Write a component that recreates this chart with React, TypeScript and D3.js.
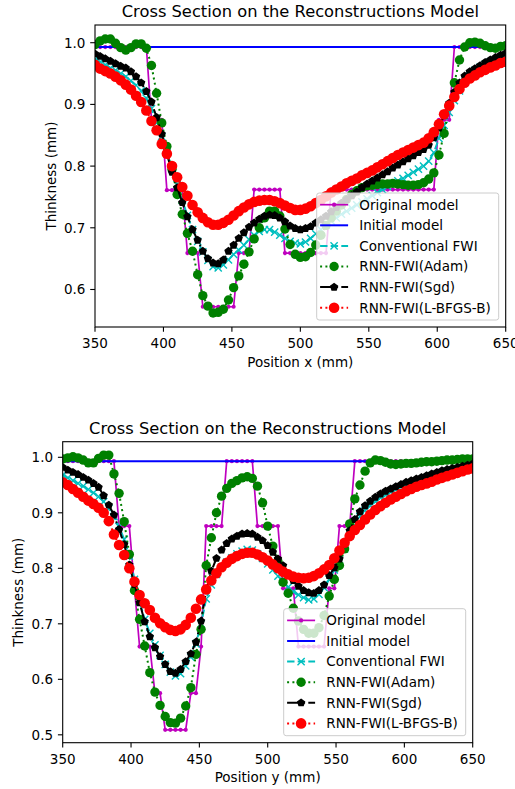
import React from "react";
import * as d3 from "d3";

// Sampling positions along the cross section (mm)
const positionMm = [
  350, 353.75, 357.5, 361.25, 365, 368.75, 372.5, 376.25, 380, 383.75,
  387.5, 391.25, 395, 398.75, 402.5, 406.25, 410, 413.75, 417.5, 421.25,
  425, 428.75, 432.5, 436.25, 440, 443.75, 447.5, 451.25, 455, 458.75,
  462.5, 466.25, 470, 473.75, 477.5, 481.25, 485, 488.75, 492.5, 496.25,
  500, 503.75, 507.5, 511.25, 515, 518.75, 522.5, 526.25, 530, 533.75,
  537.5, 541.25, 545, 548.75, 552.5, 556.25, 560, 563.75, 567.5, 571.25,
  575, 578.75, 582.5, 586.25, 590, 593.75, 597.5, 601.25, 605, 608.75,
  612.5, 616.25, 620, 623.75, 627.5, 631.25, 635, 638.75, 642.5, 646.25, 650,
];

// Initial model: flat plate, drawn as a plain line across the section
const initialPositionMm = [350, 650];
const initialThickness = [0.993, 0.993];

// ---- Cross section along x ----
const xOriginal = [
  0.993, 0.993, 0.993, 0.993, 0.993, 0.993, 0.993, 0.993, 0.993, 0.993, 0.993,
  0.875, 0.875, 0.875,
  0.761, 0.761, 0.761, 0.761,
  0.659, 0.659, 0.659,
  0.572, 0.572, 0.572, 0.572, 0.572, 0.572, 0.572,
  0.659, 0.659, 0.659,
  0.762, 0.762, 0.762, 0.762, 0.762, 0.762,
  0.659, 0.659, 0.659, 0.659, 0.659, 0.659, 0.659, 0.659, 0.659,
  0.762, 0.762, 0.762, 0.762, 0.762, 0.762, 0.762, 0.762, 0.762, 0.762, 0.762,
  0.762, 0.762, 0.762, 0.762, 0.762, 0.762, 0.762, 0.762, 0.762, 0.762,
  0.875, 0.875, 0.875,
  0.993, 0.993, 0.993, 0.993, 0.993, 0.993, 0.993, 0.993, 0.993, 0.993, 0.993,
];
const xConventional = [
  0.973, 0.969, 0.964, 0.959, 0.955, 0.950, 0.945, 0.938, 0.931, 0.922,
  0.910, 0.893, 0.870, 0.848, 0.822, 0.796, 0.770, 0.745, 0.720, 0.697,
  0.678, 0.661, 0.647, 0.637, 0.635, 0.640, 0.648, 0.657, 0.664, 0.672,
  0.681, 0.688, 0.694, 0.697, 0.697, 0.693, 0.688, 0.683, 0.678, 0.675,
  0.674, 0.677, 0.683, 0.690, 0.697, 0.704, 0.711, 0.716, 0.722, 0.727,
  0.732, 0.737, 0.742, 0.747, 0.752, 0.757, 0.762, 0.767, 0.772, 0.776,
  0.780, 0.785, 0.790, 0.795, 0.800, 0.808, 0.822, 0.845, 0.866, 0.887,
  0.906, 0.922, 0.936, 0.947, 0.955, 0.960, 0.965, 0.969, 0.972, 0.975, 0.977,
];
const xAdam = [
  0.997, 1.003, 1.006, 1.006, 0.999, 0.992, 0.988, 0.992, 0.998, 0.998,
  0.991, 0.963, 0.918, 0.870, 0.832, 0.795, 0.754, 0.722, 0.691, 0.662,
  0.624, 0.590, 0.573, 0.562, 0.563, 0.568, 0.583, 0.603, 0.622, 0.641,
  0.661, 0.682, 0.700, 0.716, 0.727, 0.727, 0.719, 0.698, 0.673, 0.657,
  0.652, 0.653, 0.660, 0.672, 0.688, 0.704, 0.716, 0.727, 0.737, 0.746,
  0.754, 0.760, 0.765, 0.768, 0.769, 0.770, 0.771, 0.771, 0.772, 0.771,
  0.770, 0.769, 0.769, 0.770, 0.773, 0.779, 0.789, 0.818, 0.853, 0.898,
  0.935, 0.972, 0.993, 1.000, 1.001, 0.999, 0.995, 0.992, 0.991, 0.994, 0.995,
];
const xSgd = [
  0.982, 0.978, 0.974, 0.970, 0.966, 0.962, 0.959, 0.953, 0.945, 0.935,
  0.921, 0.904, 0.879, 0.852, 0.820, 0.790, 0.765, 0.741, 0.718, 0.697,
  0.680, 0.662, 0.650, 0.643, 0.642, 0.648, 0.662, 0.672, 0.683, 0.692,
  0.701, 0.708, 0.714, 0.719, 0.721, 0.720, 0.716, 0.710, 0.703, 0.699,
  0.697, 0.699, 0.702, 0.708, 0.713, 0.719, 0.726, 0.733, 0.740, 0.746,
  0.752, 0.758, 0.765, 0.771, 0.776, 0.781, 0.786, 0.791, 0.797, 0.802,
  0.807, 0.812, 0.817, 0.822, 0.827, 0.834, 0.846, 0.862, 0.882, 0.902,
  0.920, 0.935, 0.946, 0.953, 0.958, 0.963, 0.968, 0.972, 0.976, 0.980, 0.983,
];
const xLbfgs = [
  0.964, 0.958, 0.954, 0.950, 0.945, 0.939, 0.932, 0.924, 0.914, 0.904,
  0.890, 0.873, 0.858, 0.836, 0.820, 0.800, 0.782, 0.766, 0.752, 0.737,
  0.725, 0.716, 0.709, 0.705, 0.705, 0.708, 0.713, 0.720, 0.727, 0.733,
  0.738, 0.742, 0.744, 0.745, 0.745, 0.743, 0.740, 0.736, 0.732, 0.729,
  0.729, 0.731, 0.735, 0.740, 0.745, 0.751, 0.757, 0.762, 0.767, 0.772,
  0.776, 0.780, 0.785, 0.789, 0.793, 0.798, 0.803, 0.808, 0.813, 0.818,
  0.822, 0.826, 0.830, 0.834, 0.838, 0.845, 0.855, 0.868, 0.884, 0.898,
  0.912, 0.925, 0.935, 0.942, 0.947, 0.952, 0.956, 0.960, 0.963, 0.967, 0.969,
];

// ---- Cross section along y ----
const yOriginal = [
  0.993, 0.993, 0.993, 0.993, 0.993, 0.993, 0.993, 0.993, 0.993, 0.993, 0.993,
  0.876, 0.876, 0.876,
  0.765,
  0.659, 0.659, 0.659,
  0.575, 0.575,
  0.509, 0.509, 0.509, 0.509, 0.509,
  0.575, 0.575,
  0.659,
  0.876, 0.876, 0.876, 0.876,
  0.993, 0.993, 0.993, 0.993, 0.993, 0.993,
  0.876, 0.876, 0.876, 0.876, 0.876,
  0.764, 0.764, 0.764,
  0.659, 0.659, 0.659, 0.659, 0.659, 0.659,
  0.764, 0.764,
  0.876, 0.876, 0.876,
  0.993, 0.993, 0.993, 0.993, 0.993, 0.993, 0.993, 0.993, 0.993, 0.993, 0.993, 0.993,
  0.993, 0.993, 0.993, 0.993, 0.993, 0.993, 0.993, 0.993, 0.993, 0.993, 0.993, 0.993,
];
const yConventional = [
  0.968, 0.963, 0.958, 0.953, 0.948, 0.942, 0.936, 0.929, 0.920, 0.908,
  0.893, 0.875, 0.852, 0.822, 0.780, 0.740, 0.708, 0.683, 0.662, 0.643,
  0.627, 0.613, 0.606, 0.610, 0.624, 0.640, 0.664, 0.700, 0.745, 0.770,
  0.789, 0.802, 0.811, 0.819, 0.826, 0.831, 0.834, 0.833, 0.826, 0.818,
  0.808, 0.797, 0.786, 0.776, 0.766, 0.758, 0.752, 0.747, 0.743, 0.745,
  0.753, 0.765, 0.780, 0.797, 0.815, 0.835, 0.858, 0.877, 0.893, 0.904,
  0.913, 0.920, 0.927, 0.932, 0.937, 0.942, 0.946, 0.950, 0.954, 0.957,
  0.960, 0.963, 0.966, 0.969, 0.972, 0.975, 0.977, 0.979, 0.981, 0.983, 0.985,
];
const yAdam = [
  0.997, 0.999, 1.001, 0.999, 0.995, 0.990, 0.990, 0.998, 1.004, 1.004,
  0.970, 0.935, 0.884, 0.825, 0.760, 0.708, 0.660, 0.612, 0.577, 0.553,
  0.533, 0.522, 0.521, 0.530, 0.552, 0.585, 0.645, 0.690, 0.805, 0.855,
  0.900, 0.930, 0.944, 0.953, 0.958, 0.963, 0.965, 0.962, 0.948, 0.918,
  0.876, 0.840, 0.812, 0.775, 0.755, 0.728, 0.705, 0.690, 0.683, 0.683,
  0.693, 0.715, 0.750, 0.780, 0.805, 0.835, 0.880, 0.925, 0.950, 0.975,
  0.990, 0.995, 0.994, 0.991, 0.988, 0.987, 0.988, 0.989, 0.989, 0.990,
  0.991, 0.992, 0.992, 0.993, 0.994, 0.995, 0.995, 0.996, 0.997, 0.997, 0.997,
];
const ySgd = [
  0.982, 0.977, 0.973, 0.969, 0.964, 0.959, 0.953, 0.946, 0.931, 0.914,
  0.896, 0.870, 0.843, 0.806, 0.771, 0.738, 0.704, 0.677, 0.657, 0.641,
  0.627, 0.614, 0.611, 0.618, 0.632, 0.646, 0.667, 0.705, 0.760, 0.795,
  0.818, 0.833, 0.845, 0.853, 0.858, 0.862, 0.863, 0.862, 0.856, 0.850,
  0.841, 0.829, 0.817, 0.805, 0.789, 0.778, 0.768, 0.760, 0.756, 0.755,
  0.760, 0.770, 0.787, 0.801, 0.817, 0.844, 0.868, 0.888, 0.902, 0.913,
  0.921, 0.928, 0.934, 0.939, 0.943, 0.947, 0.951, 0.955, 0.958, 0.961,
  0.964, 0.967, 0.970, 0.973, 0.976, 0.978, 0.980, 0.982, 0.984, 0.986, 0.988,
];
const yLbfgs = [
  0.955, 0.950, 0.943, 0.936, 0.929, 0.922, 0.916, 0.909, 0.900, 0.885,
  0.861, 0.842, 0.824, 0.800, 0.776, 0.752, 0.737, 0.725, 0.711, 0.701,
  0.694, 0.689, 0.687, 0.690, 0.698, 0.711, 0.727, 0.744, 0.762, 0.778,
  0.791, 0.802, 0.810, 0.817, 0.822, 0.826, 0.828, 0.828, 0.825, 0.820,
  0.814, 0.807, 0.800, 0.794, 0.789, 0.785, 0.783, 0.782, 0.783, 0.786,
  0.791, 0.798, 0.806, 0.818, 0.832, 0.846, 0.858, 0.869, 0.878, 0.888,
  0.897, 0.905, 0.912, 0.918, 0.924, 0.929, 0.934, 0.939, 0.943, 0.947,
  0.950, 0.953, 0.956, 0.960, 0.963, 0.966, 0.969, 0.972, 0.975, 0.978, 0.980,
];

const seriesLabels = [
  "Original model",
  "Initial model",
  "Conventional FWI",
  "RNN-FWI(Adam)",
  "RNN-FWI(Sgd)",
  "RNN-FWI(L-BFGS-B)",
];
const positionTicks = [350, 400, 450, 500, 550, 600, 650];
const topThicknessTicks = [0.6, 0.7, 0.8, 0.9, 1.0];
const bottomThicknessTicks = [0.5, 0.6, 0.7, 0.8, 0.9, 1.0];

type MarkerKind = "point" | "x" | "circle" | "pentagon" | null;
interface Style {
  color: string;
  dash: string | null;
  width: number;
  marker: MarkerKind;
  size: number;
}

const styles: Style[] = [
  { color: "#bf00bf", dash: null, width: 1.7, marker: "point", size: 2.1 },
  { color: "#0000ff", dash: null, width: 2, marker: null, size: 0 },
  { color: "#00bfbf", dash: "7.4,3.2", width: 2, marker: "x", size: 3.6 },
  { color: "#008000", dash: "2,3.3", width: 2, marker: "circle", size: 4.7 },
  { color: "#000000", dash: "12.8,3.2,2,3.2", width: 2, marker: "pentagon", size: 4.4 },
  { color: "#ff0000", dash: "2,3.3", width: 2, marker: "circle", size: 5.3 },
];

const FONT = '"DejaVu Sans", sans-serif';
const TICK_FS = 13.5;
const TITLE_FS = 16.3;

function pentagonPath(cx: number, cy: number, r: number) {
  const pts = d3.range(5).map((k) => {
    const a = -Math.PI / 2 + (k * 2 * Math.PI) / 5;
    return [cx + r * Math.cos(a), cy + r * Math.sin(a)];
  });
  return "M" + pts.map((p) => p.join(",")).join("L") + "Z";
}

function Marker({ style, x, y }: { style: Style; x: number; y: number }) {
  const { marker, color, size } = style;
  if (marker === "point" || marker === "circle") {
    return <circle cx={x} cy={y} r={size} fill={color} />;
  }
  if (marker === "x") {
    return (
      <path
        d={`M${x - size},${y - size}L${x + size},${y + size}M${x - size},${y + size}L${x + size},${y - size}`}
        stroke={color}
        strokeWidth={1.4}
        fill="none"
      />
    );
  }
  if (marker === "pentagon") {
    return <path d={pentagonPath(x, y, size)} fill={color} />;
  }
  return null;
}

interface Box {
  left: number;
  right: number;
  top: number;
  bottom: number;
}

interface PanelProps {
  id: string;
  box: Box;
  yDomain: [number, number];
  yTicks: number[];
  xLabel: string;
  series: { x: number[]; y: number[] }[];
}

function Panel({ id, box, yDomain, yTicks, xLabel, series }: PanelProps) {
  const xScale = d3.scaleLinear().domain([350, 650]).range([box.left, box.right]);
  const yScale = d3.scaleLinear().domain(yDomain).range([box.bottom, box.top]);
  const fmtY = d3.format(".1f");
  const tickLen = 4.8;
  const clipId = `clip-${id}`;

  // Legend placed in the lower-right corner of the axes
  const legW = 182;
  const legH = 127;
  const legRight = box.right - 7;
  const legBottom = box.bottom - 7;
  const legLeft = legRight - legW;
  const legTop = legBottom - legH;
  const rowStep = 20.6;

  const midX = (box.left + box.right) / 2;
  const midY = (box.top + box.bottom) / 2;

  return (
    <g>
      <defs>
        <clipPath id={clipId}>
          <rect x={box.left} y={box.top} width={box.right - box.left} height={box.bottom - box.top} />
        </clipPath>
      </defs>

      <g clipPath={`url(#${clipId})`}>
        {series.map((s, si) => {
          const st = styles[si];
          const pts = s.x.map((xv, i) => [xScale(xv), yScale(s.y[i])] as [number, number]);
          const line = d3.line()(pts) || "";
          return (
            <g key={si}>
              <path
                d={line}
                fill="none"
                stroke={st.color}
                strokeWidth={st.width}
                strokeDasharray={st.dash || undefined}
              />
              {st.marker &&
                pts.map((p, i) => <Marker key={i} style={st} x={p[0]} y={p[1]} />)}
            </g>
          );
        })}
      </g>

      {/* axes frame */}
      <rect
        x={box.left}
        y={box.top}
        width={box.right - box.left}
        height={box.bottom - box.top}
        fill="none"
        stroke="#000"
        strokeWidth={1.1}
      />

      {/* x ticks */}
      {positionTicks.map((t) => (
        <g key={`xt${t}`}>
          <line x1={xScale(t)} x2={xScale(t)} y1={box.bottom} y2={box.bottom + tickLen} stroke="#000" strokeWidth={1.1} />
          <text
            x={xScale(t)}
            y={box.bottom + 21.3}
            textAnchor="middle"
            fontFamily={FONT}
            fontSize={TICK_FS}
            fill="#000"
          >
            {t}
          </text>
        </g>
      ))}

      {/* y ticks */}
      {yTicks.map((t) => (
        <g key={`yt${t}`}>
          <line x1={box.left - tickLen} x2={box.left} y1={yScale(t)} y2={yScale(t)} stroke="#000" strokeWidth={1.1} />
          <text
            x={box.left - 9.6}
            y={yScale(t)}
            dy="0.36em"
            textAnchor="end"
            fontFamily={FONT}
            fontSize={TICK_FS}
            fill="#000"
          >
            {fmtY(t)}
          </text>
        </g>
      ))}

      {/* labels and title */}
      <text x={midX} y={box.bottom + 39.5} textAnchor="middle" fontFamily={FONT} fontSize={TICK_FS} fill="#000">
        {xLabel}
      </text>
      <text
        transform={`translate(${box.left - 39.5},${midY}) rotate(-90)`}
        textAnchor="middle"
        fontFamily={FONT}
        fontSize={TICK_FS}
        fill="#000"
      >
        Thinkness (mm)
      </text>
      <text x={midX} y={box.top - 8.2} textAnchor="middle" fontFamily={FONT} fontSize={TITLE_FS} fill="#000">
        Cross Section on the Reconstructions Model
      </text>

      {/* legend */}
      <rect
        x={legLeft}
        y={legTop}
        width={legW}
        height={legH}
        rx={2.5}
        fill="#ffffff"
        fillOpacity={0.8}
        stroke="#cccccc"
        strokeWidth={1}
      />
      {seriesLabels.map((label, i) => {
        const st = styles[i];
        const cy = legTop + 11.7 + i * rowStep;
        const hx0 = legLeft + 3.4;
        const hx1 = legLeft + 31.4;
        return (
          <g key={label}>
            <line
              x1={hx0}
              x2={hx1}
              y1={cy}
              y2={cy}
              stroke={st.color}
              strokeWidth={st.width}
              strokeDasharray={st.dash || undefined}
            />
            {st.marker && <Marker style={st} x={(hx0 + hx1) / 2} y={cy} />}
            <text
              x={legLeft + 42.6}
              y={cy}
              dy="0.36em"
              fontFamily={FONT}
              fontSize={TICK_FS}
              fill="#000"
            >
              {label}
            </text>
          </g>
        );
      })}
    </g>
  );
}

export default function App() {
  const topSeries = [
    { x: positionMm, y: xOriginal },
    { x: initialPositionMm, y: initialThickness },
    { x: positionMm, y: xConventional },
    { x: positionMm, y: xAdam },
    { x: positionMm, y: xSgd },
    { x: positionMm, y: xLbfgs },
  ];
  const bottomSeries = [
    { x: positionMm, y: yOriginal },
    { x: initialPositionMm, y: initialThickness },
    { x: positionMm, y: yConventional },
    { x: positionMm, y: yAdam },
    { x: positionMm, y: ySgd },
    { x: positionMm, y: yLbfgs },
  ];
  return (
    <svg
      width={515}
      height={789}
      style={{ position: "absolute", left: 0, top: 0, background: "#fff" }}
    >
      <rect width={515} height={789} fill="#fff" />
      <Panel
        id="px"
        box={{ left: 95, right: 505.7, top: 25, bottom: 327 }}
        yDomain={[0.5392, 1.0287]}
        yTicks={topThicknessTicks}
        xLabel="Position x (mm)"
        series={topSeries}
      />
      <Panel
        id="py"
        box={{ left: 62.7, right: 472.7, top: 441.7, bottom: 742.7 }}
        yDomain={[0.4858, 1.0281]}
        yTicks={bottomThicknessTicks}
        xLabel="Position y (mm)"
        series={bottomSeries}
      />
    </svg>
  );
}
